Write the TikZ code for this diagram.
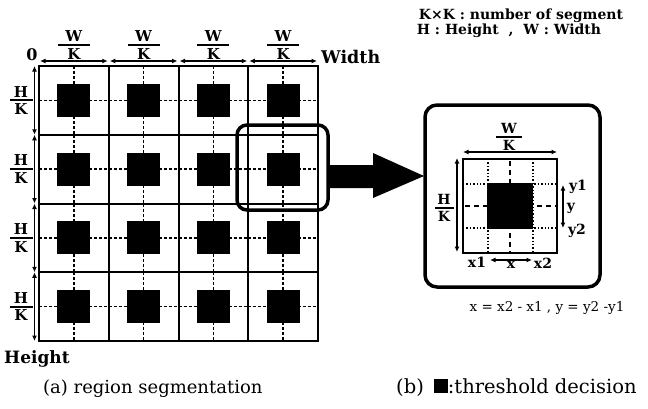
\documentclass[tikz,border=0pt]{standalone}
\usepackage{fontspec}
\setmainfont{DejaVu Serif}
\usetikzlibrary{arrows.meta}
\newcommand\vfrac[3]{\vbox{\offinterlineskip\hbox to #3{\hss#1\hss}\kern2.2pt\hrule height 2pt\kern2.2pt\hbox to #3{\hss#2\hss}}}
\begin{document}
\begin{tikzpicture}[x=1pt,y=-1pt,
 gridline/.style={line width=2pt},
 crossdash/.style={line width=1.3pt,dash pattern=on 3pt off 2pt},
 finedot/.style={line width=1.4pt,dash pattern=on 1.4pt off 2pt},
 centerdash/.style={line width=1.6pt,dash pattern=on 5pt off 4pt},
 dimarr/.style={line width=1.3pt,{Latex[length=5.5pt,width=5pt]}-{Latex[length=5.5pt,width=5pt]}},
 bf/.style={font=\fontsize{#1}{#1}\selectfont\bfseries, inner sep=0pt},
 rm/.style={font=\fontsize{#1}{#1}\selectfont, inner sep=0pt},
 roundbox/.style={draw, line width=3.5pt, rounded corners=#1, inner sep=0pt},
 ]
\useasboundingbox[fill=white] (0,0) rectangle (648,408);
% ---- grid cells
\foreach \i in {0,...,3}{
 \foreach \j in {0,...,3}{
  \pgfmathsetmacro\cx{39+69.75*\i+34.875}
  \pgfmathsetmacro\cy{66+68.75*\j+34.375}
  \coordinate (c\i\j) at (\cx,\cy);
  \draw[crossdash] (\cx,{66+68.75*\j}) -- (\cx,{66+68.75*(\j+1)});
  \draw[crossdash] ({39+69.75*\i},\cy) -- ({39+69.75*(\i+1)},\cy);
  \fill ({\cx-16.5},{\cy-16.5}) rectangle ({\cx+16.5},{\cy+16.5});
 }
}
\foreach \i in {1,...,3}{
 \draw[gridline] ({39+69.75*\i},66) -- ({39+69.75*\i},341);
 \draw[gridline] (39,{66+68.75*\i}) -- (318,{66+68.75*\i});
}
\draw[line width=2.4pt] (39,66) rectangle (318,341);
% ---- top dimensions
\foreach \i in {0,...,3}{
 \coordinate (tl\i) at ({39+69.75*\i},61);
 \coordinate (tr\i) at ({39+69.75*(\i+1)},61);
 \draw[dimarr, shorten <=1pt, shorten >=1pt] (tl\i) -- (tr\i);
 \node[bf=15, anchor=south] (wk\i) at ({39+69.75*\i+34.875},59.5) {\vfrac{W}{K}{32pt}};
}
% ---- left dimensions
\foreach \j in {0,...,3}{
 \coordinate (lt\j) at (34.5,{66+68.75*\j});
 \coordinate (lb\j) at (34.5,{66+68.75*(\j+1)});
 \draw[dimarr] (lt\j) -- (lb\j);
 \node[bf=15] (hk\j) at (21,{66+68.75*\j+34.375}) {\vfrac{H}{K}{23pt}};
}
\node[bf=16] (zero) at (32,55) {0};
\node[bf=17.5, anchor=west] (width) at (321,57) {Width};
\node[bf=17, anchor=west] (height) at (4,359) {Height};
% ---- legend top right
\node[bf=14] (leg1) at (521,16) {K×K : number of segment};
\node[bf=14] (leg2) at (509,31) {H : Height\ \ ,\ \ W :\ Width};
% ---- highlight and arrow
\node[roundbox=10pt, minimum width=91pt, minimum height=85pt] (hl) at (282.5,167.5) {};
\node[roundbox=12pt, minimum width=175pt, minimum height=182pt] (zoombox) at (512.5,196) {};
\fill (330,165) -- (373,165) -- (373,153) -- (424,176) -- (373,198) -- (373,188) -- (330,188) -- cycle;
% ---- zoomed cell
\draw[finedot] (488,159) -- (488,253);
\draw[finedot] (533,159) -- (533,253);
\draw[finedot] (463,184) -- (557,184);
\draw[finedot] (463,228) -- (557,228);
\draw[centerdash] (510,161) -- (510,253);
\draw[centerdash] (465,206) -- (557,206);
\fill (487,183) rectangle (533,229);
\draw[line width=2pt] (463,159) rectangle (557,253);
\coordinate (zl) at (463,152); \coordinate (zr) at (557,152);
\draw[dimarr] (zl) -- (zr);
\node[bf=14, anchor=south] (zwk) at (509,150.5) {\vfrac{W}{K}{26pt}};
\coordinate (zt) at (457,158); \coordinate (zb) at (457,252);
\draw[dimarr] (zt) -- (zb);
\node[bf=14] (zhk) at (444,208) {\vfrac{H}{K}{19pt}};
\coordinate (y1c) at (563,185); \coordinate (y2c) at (563,228);
\draw[dimarr] (y1c) -- (y2c);
\node[bf=14] (ly1) at (578,187) {y1};
\node[bf=14] (ly) at (571,208) {y};
\node[bf=14] (ly2) at (577,231) {y2};
\coordinate (x1c) at (490,260); \coordinate (x2c) at (532,260);
\draw[dimarr] (x1c) -- (x2c);
\node[bf=14] (lx1) at (477,262) {x1};
\node[bf=14] (lx) at (511,265) {x};
\node[bf=14] (lx2) at (543,263) {x2};
\node[rm=13.5] (formula) at (547,308) {x = x2 - x1 , y = y2 -y1};
% ---- captions
\node[rm=18, anchor=base west] (capa) at (43,393) {(a) region segmentation};
\node[rm=19.5, anchor=base west] (capb) at (396,393) {(b)\hspace{10pt}\rule{14pt}{14pt}:threshold decision};
\end{tikzpicture}
\end{document}
